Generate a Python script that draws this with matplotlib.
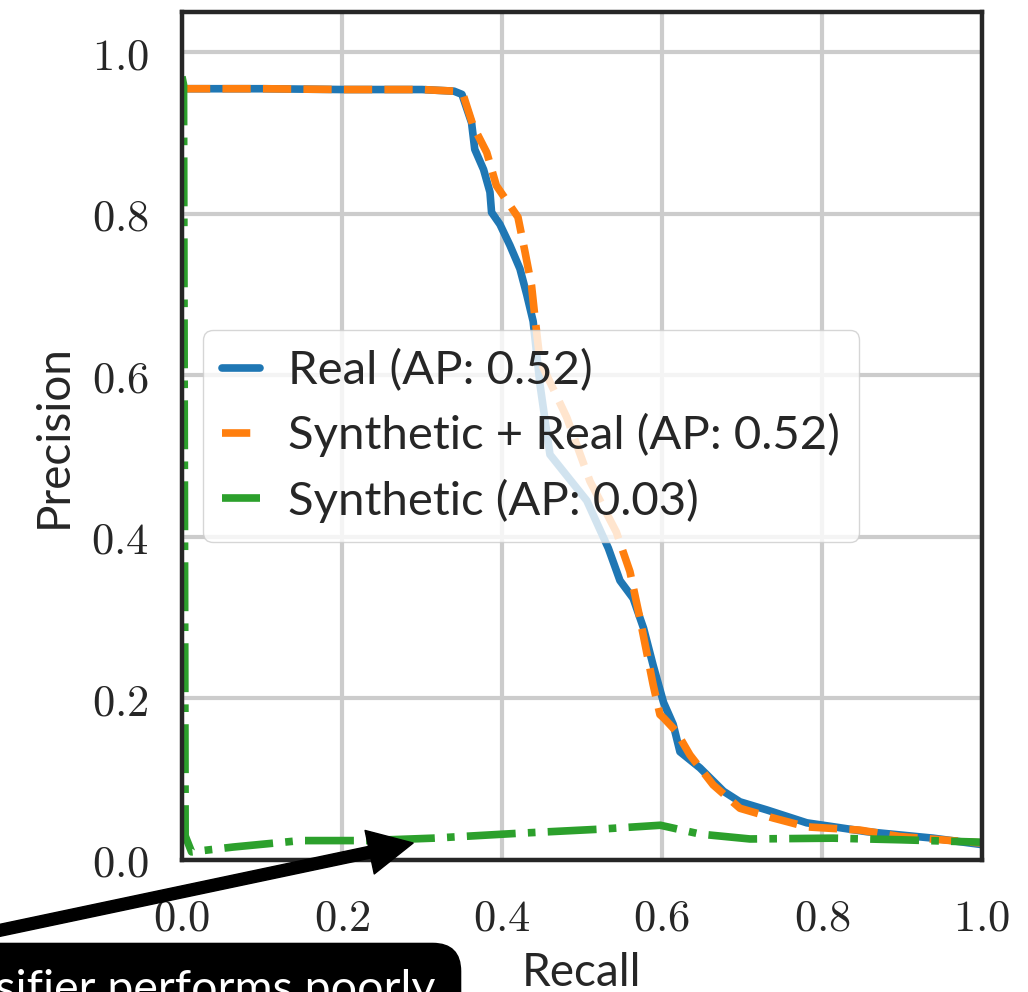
import matplotlib
matplotlib.use('Agg')
import matplotlib.pyplot as plt
from matplotlib.ticker import FuncFormatter

plt.rcParams['mathtext.fontset'] = 'cm'

# recall / precision
real_recall = [0.0, 0.1, 0.2, 0.3, 0.34, 0.35, 0.362, 0.366, 0.377, 0.385, 0.387, 0.3975,
               0.41, 0.4225, 0.431, 0.439, 0.4475, 0.46, 0.506, 0.533, 0.5475, 0.564, 0.577,
               0.589, 0.602, 0.614, 0.6225, 0.6475, 0.677, 0.6975, 0.731, 0.781, 0.856, 0.939, 1.0]
real_precision = [0.955, 0.955, 0.954, 0.954, 0.952, 0.948, 0.913, 0.88, 0.855, 0.827, 0.802, 0.787,
                  0.761, 0.732, 0.70, 0.667, 0.589, 0.502, 0.445, 0.386, 0.346, 0.324, 0.287,
                  0.241, 0.195, 0.168, 0.134, 0.114, 0.085, 0.072, 0.062, 0.046, 0.035, 0.027, 0.019]

mix_recall = [0.0, 0.1, 0.2, 0.3, 0.34, 0.352, 0.364, 0.381, 0.393, 0.42, 0.429, 0.437, 0.441,
              0.4475, 0.481, 0.51, 0.543, 0.56, 0.5725, 0.589, 0.5975, 0.602, 0.618, 0.635,
              0.664, 0.6975, 0.739, 0.781, 0.8475, 0.8975, 1.0]
mix_precision = [0.955, 0.955, 0.954, 0.954, 0.952, 0.946, 0.909, 0.876, 0.835, 0.796, 0.752, 0.711, 0.674,
                 0.618, 0.548, 0.469, 0.406, 0.357, 0.299, 0.217, 0.180, 0.176, 0.159, 0.130,
                 0.093, 0.064, 0.052, 0.041, 0.037, 0.029, 0.021]

syn_recall = [0.0, 0.002, 0.004, 0.012, 0.064, 0.148, 0.231, 0.314, 0.42, 0.52, 0.598,
              0.648, 0.71, 0.814, 0.898, 1.0]
syn_precision = [0.97, 0.96, 0.03, 0.01, 0.016, 0.024, 0.024, 0.027, 0.033, 0.038, 0.043,
                 0.032, 0.026, 0.027, 0.025, 0.022]

labels = ['Real (AP: 0.52)', 'Synthetic + Real (AP: 0.52)', 'Synthetic (AP: 0.03)']
ticks = [0.0, 0.2, 0.4, 0.6, 0.8, 1.0]

fig = plt.figure(figsize=(10.28, 9.92), dpi=100)
ax = fig.add_axes([0.177, 0.1331, 0.7782, 0.8548])

ax.plot(real_recall, real_precision, color='#1f77b4', lw=5.5, solid_capstyle='round',
        label=labels[0])
ax.plot(mix_recall, mix_precision, color='#ff7f0e', lw=5.5, ls='--', label=labels[1])
ax.plot(syn_recall, syn_precision, color='#2ca02c', lw=5.5, ls='-.', label=labels[2])

ax.set_xlim(0, 1)
ax.set_ylim(0, 1.05)
ax.set_xticks(ticks)
ax.set_yticks(ticks)
fmt = FuncFormatter(lambda v, p: r'$%.1f$' % v)
ax.xaxis.set_major_formatter(fmt)
ax.yaxis.set_major_formatter(fmt)
ax.tick_params(length=0, labelsize=32, labelcolor='#262626')
ax.tick_params(axis='x', pad=26)
ax.tick_params(axis='y', pad=24)

ax.grid(True, color='#cccccc', lw=3)
ax.set_axisbelow(True)
for sp in ax.spines.values():
    sp.set_color('#262626')
    sp.set_linewidth(3.2)

ax.set_xlabel('Recall', family='Lato', fontsize=33, color='#262626', labelpad=9)
ax.set_ylabel('Precision', family='Lato', fontsize=33, color='#262626', labelpad=12)

leg = ax.legend(loc='center left', prop={'family': 'Lato', 'size': 34}, handlelength=0.8,
                handletextpad=0.6, labelspacing=0.45, framealpha=0.8, edgecolor='#cccccc',
                fancybox=True, borderaxespad=0.45)
for t in leg.get_texts():
    t.set_color('#262626')

# arrow pointing at the synthetic curve
ax.annotate('', xy=(0.289, 0.021), xycoords='data',
            xytext=(-60, 49), textcoords='figure pixels',
            arrowprops=dict(facecolor='black', edgecolor='black', width=8.5,
                            headwidth=32, headlength=32, shrink=0),
            annotation_clip=False)
fig.text(435, -11, 'Synthetic classifier performs poorly', transform=None,
         ha='right', va='baseline', family='Lato', fontsize=33.5, color='white',
         bbox=dict(boxstyle='round,pad=0.55,rounding_size=0.6', fc='black', ec='black'))

fig.savefig('out.png', dpi=100)
